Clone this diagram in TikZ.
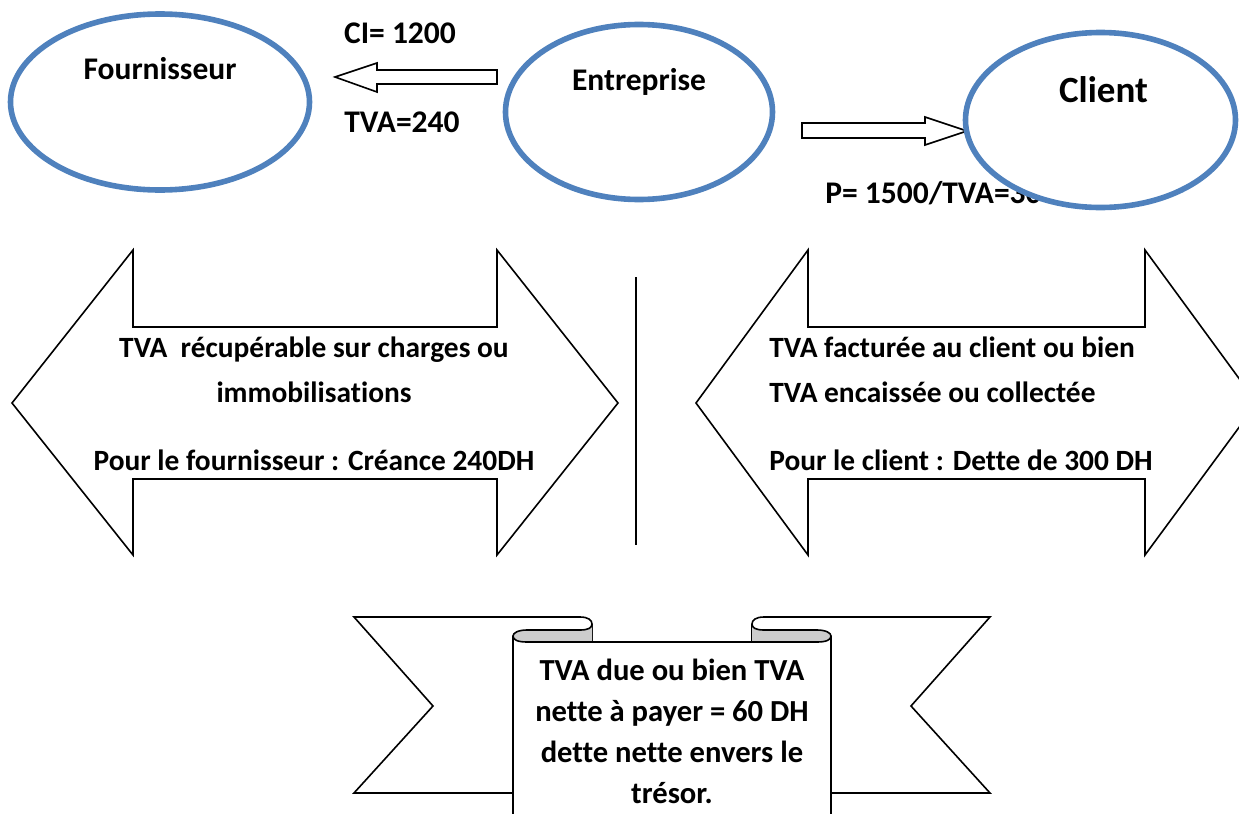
\documentclass[tikz,border=0pt]{standalone}
\usepackage{fontspec}
\setmainfont{Carlito}[Ligatures=NoCommon]
\usetikzlibrary{calc,positioning,shapes.geometric}
\definecolor{ofblue}{RGB}{79,129,189}
\definecolor{foldgray}{RGB}{205,205,205}

\begin{document}
\begin{tikzpicture}[x=0.5pt,y=-0.5pt,
  actor/.style={ellipse,draw=ofblue,line width=2.8pt,fill=white,inner sep=0pt},
  lbl/.style={font=\fontsize{15.75}{19}\selectfont\bfseries,inner sep=0pt,anchor=base},
  body/.style={font=\fontsize{14.7}{18}\selectfont\bfseries,inner sep=0pt,anchor=base},
  band/.style={font=\fontsize{15.3}{18}\selectfont\bfseries,inner sep=0pt,anchor=base},
  blk/.style={draw,line width=0.8pt,fill=white,line join=miter},
  ruban/.style={draw,line width=0.8pt}]
\useasboundingbox (0,0) rectangle (1239,814);
\clip (0,0) rectangle (1239,814);

% acteurs
\node[actor,minimum width=149.5pt,minimum height=88pt] (four) at (160,102) {};
\node[lbl] (fourtxt) at ($(four.center)+(0,-23)$) {Fournisseur};
\node[actor,minimum width=133.5pt,minimum height=87.5pt] (entr) at (639,112) {};
\node[lbl] (entrtxt) at ($(entr.center)+(0,-22)$) {Entreprise};

% flux
\draw[blk] (497,70) -- (377,70) -- (377,63) -- (335,77) -- (377,92) -- (377,84) -- (497,84) -- cycle;
\node[lbl] (ci) at (400,43) {CI= 1200};
\node[lbl] (tva1) at (402,132) {TVA=240};
\draw[blk] (802,123) -- (925,123) -- (925,117) -- (967,131) -- (925,145) -- (925,138) -- (802,138) -- cycle;
\node[lbl,anchor=base west] (prix) at (825,203) {P= 1500/TVA=300};
\node[actor,minimum width=135pt,minimum height=87.5pt] (cli) at (1100.5,120) {};
\node[lbl,font=\fontsize{18.5}{22}\selectfont\bfseries] (clitxt) at ($(cli.center)+(3,-18)$) {Client};

% doubles fleches
\draw[blk] (12,403) -- (133,250) -- (133,327) -- (497,327) -- (497,250) -- (618,403)
  -- (497,555) -- (497,479) -- (133,479) -- (133,555) -- cycle;
\node[body] (rec1) at (314,357) {TVA~ récupérable sur charges ou};
\node[body] (rec2) at (314,402) {immobilisations};
\node[body] (rec3) at (314,470) {Pour le fournisseur : Créance 240DH};
\draw[line width=0.8pt] (636,277) -- (636,545);
\draw[blk] (696,403) -- (808,250) -- (808,327) -- (1145,327) -- (1145,250) -- (1257,403)
  -- (1145,555) -- (1145,479) -- (808,479) -- (808,555) -- cycle;
\node[body,anchor=base west] (col1) at (769,357) {TVA facturée au client ou bien};
\node[body,anchor=base west] (col2) at (769,402) {TVA encaissée ou collectée};
\node[body,anchor=base west] (col3) at (769,470) {Pour le client : Dette de 300 DH};

% ruban
\draw[ruban] (513,793) -- (354,793) -- (433,706) -- (354,617) -- (580,617)
  .. controls (588,617) and (592,620) .. (592,624) -- (592,642);
\draw[ruban] (831,793) -- (990,793) -- (911,706) -- (990,617) -- (764,617)
  .. controls (756,617) and (752,620) .. (752,624) -- (752,642);
\filldraw[ruban,fill=foldgray] (592,624) .. controls (592,628) and (588,630) .. (580,630) -- (527,630)
  .. controls (518,630) and (513,633) .. (513,636) .. controls (513,640) and (518,642) .. (527,642) -- (592,642);
\filldraw[ruban,fill=foldgray] (752,624) .. controls (752,628) and (756,630) .. (764,630) -- (817,630)
  .. controls (826,630) and (831,633) .. (831,636) .. controls (831,640) and (826,642) .. (817,642) -- (752,642);
\draw[ruban] (527,642) -- (817,642);
\draw[ruban] (513,636) -- (513,820);
\draw[ruban] (831,636) -- (831,820);
\node[band] (du1) at (672,680) {TVA due ou bien TVA};
\node[band] (du2) at (672,721) {nette à payer = 60 DH};
\node[band] (du3) at (672,762) {dette nette envers le};
\node[band] (du4) at (672,803) {trésor.};
\end{tikzpicture}
\end{document}
